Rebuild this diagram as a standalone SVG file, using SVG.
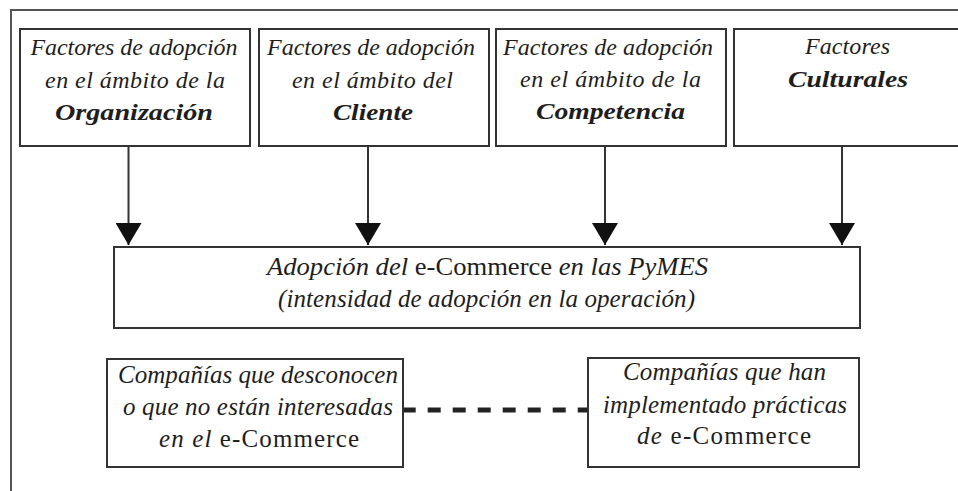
<svg xmlns="http://www.w3.org/2000/svg" width="958" height="491" viewBox="0 0 958 491">
<style>
.frame{fill:none;stroke:#555;stroke-width:2}
.box{fill:#fff;stroke:#333;stroke-width:2}
.conn{stroke:#333;stroke-width:2;fill:none}
.dash{stroke:#222;stroke-width:5;stroke-dasharray:13 12;stroke-dashoffset:1.3;fill:none}
text{font-family:"Liberation Serif","Times New Roman",serif;font-size:24px;fill:#1e1e1e;text-anchor:middle;font-style:italic}
.b{font-weight:bold}
.r{font-style:normal}
.m{font-size:25px}
</style>
<defs>
<marker id="ah" viewBox="0 0 22 26" markerWidth="22" markerHeight="26" refX="22" refY="13" orient="auto" markerUnits="userSpaceOnUse">
<path d="M0,0 L22,13 L0,26 z" fill="#111"/>
</marker>
</defs>
<rect width="958" height="491" fill="#fff"/>
<path class="frame" d="M11,491 L11,10 L958,10"/>
<g id="n-organizacion">
<rect class="box" x="20" y="29" width="230" height="117"/>
<text x="134" y="55" textLength="207" lengthAdjust="spacing">Factores de adopción</text>
<text x="135" y="88" textLength="180" lengthAdjust="spacing">en el ámbito de la</text>
<text x="134" y="120" class="b" textLength="158" lengthAdjust="spacingAndGlyphs">Organización</text>
</g>
<g id="n-cliente">
<rect class="box" x="259" y="29" width="230" height="117"/>
<text x="371" y="55" textLength="208" lengthAdjust="spacing">Factores de adopción</text>
<text x="372.5" y="88" textLength="161" lengthAdjust="spacing">en el ámbito del</text>
<text x="373" y="120" class="b" textLength="80" lengthAdjust="spacingAndGlyphs">Cliente</text>
</g>
<g id="n-competencia">
<rect class="box" x="496" y="29" width="230" height="117"/>
<text x="608" y="55" textLength="210" lengthAdjust="spacing">Factores de adopción</text>
<text x="610.5" y="87" textLength="181" lengthAdjust="spacing">en el ámbito de la</text>
<text x="610.5" y="119" class="b" textLength="149" lengthAdjust="spacingAndGlyphs">Competencia</text>
</g>
<g id="n-culturales">
<rect class="box" x="734" y="29" width="230" height="117"/>
<text x="847.5" y="54" textLength="85" lengthAdjust="spacing">Factores</text>
<text x="848" y="87" class="b" textLength="120" lengthAdjust="spacingAndGlyphs">Culturales</text>
</g>
<g id="n-adopcion">
<rect class="box" x="114" y="247" width="746" height="81"/>
<text x="487.5" y="275" class="m" textLength="441" lengthAdjust="spacingAndGlyphs">Adopción del <tspan class="r">e-Commerce</tspan> en las PyMES</text>
<text x="486.5" y="307" class="m" textLength="417" lengthAdjust="spacing">(intensidad de adopción en la operación)</text>
</g>
<g id="n-desconocen">
<rect class="box" x="107" y="359" width="296" height="108"/>
<text x="258" y="383" class="m" textLength="280" lengthAdjust="spacing">Compañías que desconocen</text>
<text x="258" y="415" class="m" textLength="270" lengthAdjust="spacing">o que no están interesadas</text>
<text x="259" y="447" class="m" textLength="200" lengthAdjust="spacing">en el <tspan class="r">e-Commerce</tspan></text>
</g>
<g id="n-implementado">
<rect class="box" x="588" y="358" width="271" height="109"/>
<text x="724.5" y="380" class="m" textLength="203" lengthAdjust="spacing">Compañías que han</text>
<text x="725" y="413" class="m" textLength="244" lengthAdjust="spacing">implementado prácticas</text>
<text x="724" y="444" class="m" textLength="174" lengthAdjust="spacing">de <tspan class="r">e-Commerce</tspan></text>
</g>
<g id="connectors">
<line class="conn" x1="128.5" y1="146" x2="128.5" y2="245" marker-end="url(#ah)"/>
<line class="conn" x1="368" y1="146" x2="368" y2="245" marker-end="url(#ah)"/>
<line class="conn" x1="605" y1="146" x2="605" y2="245" marker-end="url(#ah)"/>
<line class="conn" x1="842" y1="146" x2="842" y2="245" marker-end="url(#ah)"/>
<line class="dash" x1="404" y1="410" x2="587" y2="410"/>
</g>
</svg>
